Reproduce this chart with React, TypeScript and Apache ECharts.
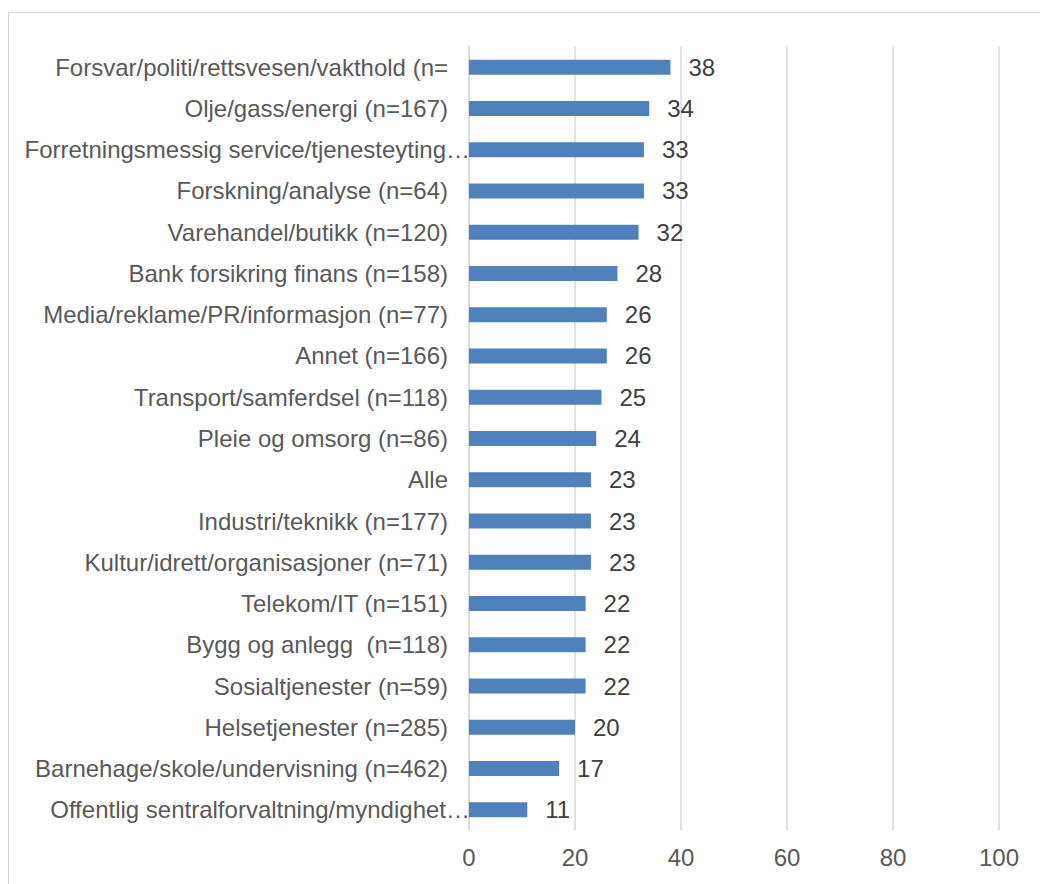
import React, { useEffect, useRef } from "react";
import * as echarts from "echarts";

const categories = [
  "Forsvar/politi/rettsvesen/vakthold (n=",
  "Olje/gass/energi (n=167)",
  "Forretningsmessig service/tjenesteyting…",
  "Forskning/analyse (n=64)",
  "Varehandel/butikk (n=120)",
  "Bank forsikring finans (n=158)",
  "Media/reklame/PR/informasjon (n=77)",
  "Annet (n=166)",
  "Transport/samferdsel (n=118)",
  "Pleie og omsorg (n=86)",
  "Alle",
  "Industri/teknikk (n=177)",
  "Kultur/idrett/organisasjoner (n=71)",
  "Telekom/IT (n=151)",
  "Bygg og anlegg  (n=118)",
  "Sosialtjenester (n=59)",
  "Helsetjenester (n=285)",
  "Barnehage/skole/undervisning (n=462)",
  "Offentlig sentralforvaltning/myndighet…",
];
const values = [38, 34, 33, 33, 32, 28, 26, 26, 25, 24, 23, 23, 23, 22, 22, 22, 20, 17, 11];
const xTicks = { min: 0, max: 100, interval: 20 };

const FONT = "Liberation Sans, Arial, sans-serif";

export default function App() {
  const ref = useRef<HTMLDivElement>(null);
  useEffect(() => {
    if (!ref.current) return;
    const chart = echarts.init(ref.current, null, { renderer: "svg" });
    chart.setOption({
      animation: false,
      backgroundColor: "#ffffff",
      textStyle: { fontFamily: FONT },
      graphic: [
        {
          type: "rect",
          shape: { x: 8.5, y: 12.5, width: 1200, height: 1000 },
          style: { fill: "none", stroke: "#d9d9d9", lineWidth: 1 },
          silent: true,
        },
      ],
      grid: { left: 469, right: 41, top: 46.5, bottom: 53.5, containLabel: false },
      xAxis: {
        type: "value",
        min: xTicks.min,
        max: xTicks.max,
        interval: xTicks.interval,
        axisLine: { show: false },
        axisTick: { show: false },
        splitLine: { show: true, lineStyle: { color: "#d9d9d9", width: 1.5 } },
        axisLabel: {
          color: "#595959",
          fontSize: 24,
          margin: 15,
          fontFamily: FONT,
        },
      },
      yAxis: {
        type: "category",
        inverse: true,
        data: categories,
        axisLine: { show: true, lineStyle: { color: "#d9d9d9", width: 1.5 } },
        axisTick: { show: false },
        axisLabel: {
          color: "#595959",
          fontSize: 24,
          margin: 21,
          fontFamily: FONT,
          formatter: (v: string) => (v.endsWith("…") ? "{e|" + v + "}" : v),
          rich: {
            e: {
              color: "#595959",
              fontSize: 24,
              fontFamily: FONT,
              padding: [0, -22, 0, 0],
            },
          },
        },
      },
      series: [
        {
          type: "bar",
          data: values,
          barWidth: 15,
          itemStyle: { color: "#4f81bd" },
          label: {
            show: true,
            position: "right",
            distance: 18,
            color: "#404040",
            fontSize: 24,
            fontFamily: FONT,
          },
        },
      ],
    });
    return () => chart.dispose();
  }, []);
  return (
    <div
      ref={ref}
      style={{ position: "absolute", left: 0, top: 0, width: 1040, height: 884 }}
    />
  );
}
